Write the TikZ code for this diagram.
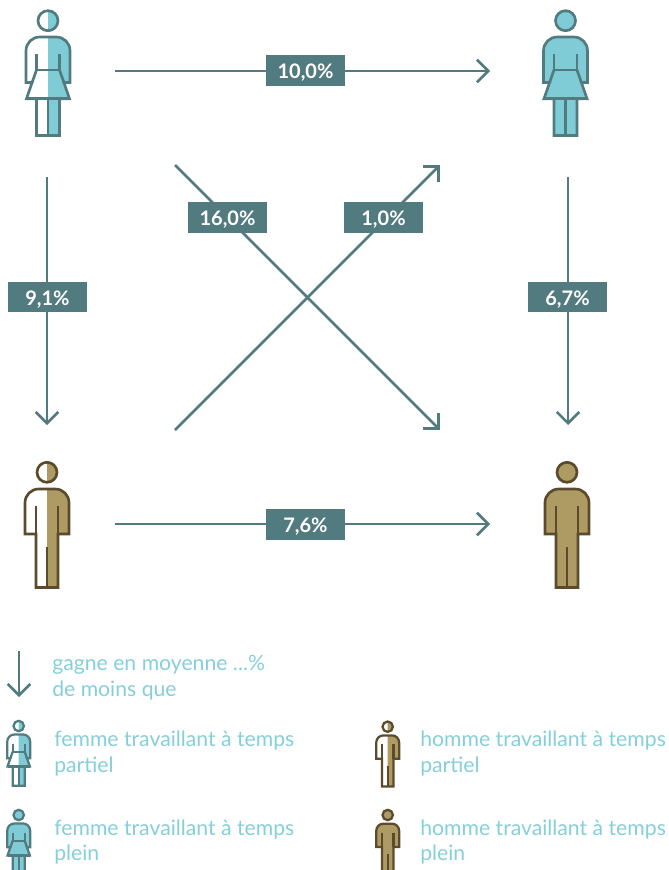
\documentclass[tikz,border=0pt]{standalone}
\usepackage{fontspec}
\setmainfont{Lato}
\usetikzlibrary{arrows.meta}
\definecolor{tealline}{HTML}{527B80}
\definecolor{tealfill}{HTML}{7FCBD6}
\definecolor{brownline}{HTML}{5A4B2D}
\definecolor{brownfill}{HTML}{AE9B63}
\definecolor{legendtext}{HTML}{85CFDB}
\tikzset{
  flow/.style={draw=tealline,line width=1.9pt,-{Straight Barb[length=8.5pt,width=17pt,line width=1.9pt]}},
  pct/.style={fill=tealline,text=white,minimum width=59.25pt,minimum height=23pt,inner sep=0pt,text height=12pt,text depth=0pt,font=\fontsize{15}{15}\selectfont\bfseries},
  legend/.style={text=legendtext,anchor=base west,inner sep=0pt,font=\fontsize{15.9}{16}\selectfont},
}
\newcommand{\womanbody}{(-22,61.8) -- (-22,30) arc[start angle=180,end angle=270,radius=13.7] -- (8.3,16.3) arc[start angle=270,end angle=360,radius=13.7] -- (22,61.8) -- (15.9,61.8) -- (21.5,78) -- (11.5,78) -- (11.5,114.8) -- (-11.5,114.8) -- (-11.5,78) -- (-21.5,78) -- (-15.9,61.8) -- cycle}
\newcommand{\manbody}{(-22,61.7) -- (-22,30.4) arc[start angle=180,end angle=270,radius=13.7] -- (8.3,16.7) arc[start angle=270,end angle=360,radius=13.7] -- (22,61.7) -- (11,61.7) -- (11,115.2) -- (-11,115.2) -- (-11,61.7) -- cycle}
% #1 x, #2 y (head centre), #3 scale, #4 left fill, #5 stroke width
\newcommand{\womanfig}[5]{%
\begin{scope}[shift={(#1,#2)},scale=#3]
  \fill[#4] \womanbody;
  \fill[#4] (0,0) circle[radius=10];
  \begin{scope}
    \clip (0,-15) rectangle (30,120);
    \fill[tealfill] \womanbody;
    \fill[tealfill] (0,0) circle[radius=10];
  \end{scope}
  \begin{scope}[draw=tealline,line width=#5,line join=miter]
    \draw (0,0) circle[radius=10];
    \draw \womanbody;
    \draw (-11.5,33.8) -- (-11.5,49.3) -- (11.5,49.3) -- (11.5,33.8);
    \draw (-11.5,49.3) -- (-15.9,61.8) (11.5,49.3) -- (15.9,61.8);
    \draw (-21.5,78) -- (21.5,78);
    \draw (0,78) -- (0,114.8);
  \end{scope}
\end{scope}}
\newcommand{\manfig}[5]{%
\begin{scope}[shift={(#1,#2)},scale=#3]
  \fill[#4] \manbody;
  \fill[#4] (0,0) circle[radius=10];
  \begin{scope}
    \clip (0,-15) rectangle (30,120);
    \fill[brownfill] \manbody;
    \fill[brownfill] (0,0) circle[radius=10];
  \end{scope}
  \begin{scope}[draw=brownline,line width=#5,line join=miter]
    \draw (0,0) circle[radius=10];
    \draw \manbody;
    \draw (-11,33.7) -- (-11,61.7) (11,33.7) -- (11,61.7);
    \draw (0,74.7) -- (0,115.2);
  \end{scope}
\end{scope}}
\begin{document}
\begin{tikzpicture}[x=0.75pt,y=-0.75pt]
\useasboundingbox (0,0) rectangle (668,870);
\clip (0,0) rectangle (668,870);
% connector ends
\coordinate (tlE) at (115,71);
\coordinate (trW) at (490,71);
\coordinate (blE) at (115,524);
\coordinate (brW) at (490,524);
\coordinate (tlS) at (47,177);
\coordinate (blN) at (47,425);
\coordinate (trS) at (568,177);
\coordinate (brN) at (568,425);
\coordinate (tlSE) at (175,165);
\coordinate (brNW) at (440,430);
\coordinate (blNE) at (175,430);
\coordinate (trSW) at (440,165);
\coordinate (keyA) at (19,651);
\coordinate (keyB) at (19,697);
% connectors
\draw[flow] (tlE) -- (trW);
\draw[flow] (blE) -- (brW);
\draw[flow] (tlS) -- (blN);
\draw[flow] (trS) -- (brN);
\draw[flow] (tlSE) -- (brNW);
\draw[flow] (blNE) -- (trSW);
\draw[flow] (keyA) -- (keyB);
% labels
\node[pct] (p1) at (305.5,70.5) {10,0\%};
\node[pct] (p2) at (227.5,217.5) {16,0\%};
\node[pct] (p3) at (383.5,217.5) {1,0\%};
\node[pct] (p4) at (47.5,297) {9,1\%};
\node[pct] (p5) at (567.5,297) {6,7\%};
\node[pct] (p6) at (305.5,524.5) {7,6\%};
% figures
\womanfig{48}{20.7}{1}{white}{2pt}
\womanfig{565.5}{20.7}{1}{tealfill}{2pt}
\manfig{47}{472.3}{1}{white}{2pt}
\manfig{567}{472.3}{1}{brownfill}{2pt}
\womanfig{18.7}{726}{0.52}{white}{1.7pt}
\womanfig{18.7}{815}{0.52}{tealfill}{1.7pt}
\manfig{387.7}{726.7}{0.52}{white}{1.7pt}
\manfig{387.7}{815}{0.52}{brownfill}{1.7pt}
% legend text
\node[legend] (k1) at (52,670) {gagne en moyenne ...\%};
\node[legend] (k2) at (52,696) {de moins que};
\node[legend] (k3) at (54,746) {femme travaillant à temps};
\node[legend] (k4) at (54,772) {partiel};
\node[legend] (k5) at (54,835) {femme travaillant à temps};
\node[legend] (k6) at (54,860) {plein};
\node[legend] (k7) at (420,746) {homme travaillant à temps};
\node[legend] (k8) at (420,772) {partiel};
\node[legend] (k9) at (420,835) {homme travaillant à temps};
\node[legend] (k10) at (420,860) {plein};
\end{tikzpicture}
\end{document}
